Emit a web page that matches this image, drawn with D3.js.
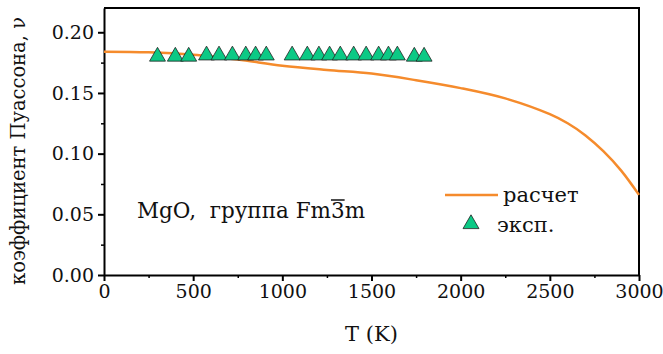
<!DOCTYPE html>
<html>
<head>
<meta charset="utf-8">
<script src="https://cdn.jsdelivr.net/npm/d3@7"></script>
<style>
  body { margin: 0; background: #fff; }
  text { font-family: "DejaVu Serif", serif; fill: #111; }
</style>
</head>
<body>
<div id="chart"></div>
<script>
// calculated curve
var calcT  = [0, 250, 500, 750, 1000, 1250, 1500, 1750, 2000, 2250, 2500, 2600, 2700, 2800, 2900, 3000];
var calcNu = [0.184, 0.1835, 0.1815, 0.1775, 0.1725, 0.169, 0.166, 0.1605, 0.154, 0.1455, 0.1325, 0.125, 0.115, 0.102, 0.086, 0.066];

// experiment points
var expT  = [300, 400, 475, 575, 645, 720, 795, 850, 910, 1055, 1140, 1205, 1265, 1325, 1400, 1470, 1540, 1595, 1645, 1740, 1795];
var expNu = [0.180, 0.180, 0.180, 0.181, 0.181, 0.181, 0.181, 0.181, 0.181, 0.181, 0.181, 0.181, 0.181, 0.181, 0.181, 0.181, 0.181, 0.181, 0.181, 0.180, 0.180];

var xTicks = [0, 500, 1000, 1500, 2000, 2500, 3000];
var yTicks = [0.00, 0.05, 0.10, 0.15, 0.20];

var width = 663, height = 354;
var margin = { top: 8, right: 24, bottom: 79, left: 104 };

var svg = d3.select("#chart").append("svg")
  .attr("width", width)
  .attr("height", height);

var x = d3.scaleLinear()
  .domain([0, 3000])
  .range([margin.left, width - margin.right]);

var y = d3.scaleLinear()
  .domain([0, 0.22])
  .range([height - margin.bottom, margin.top]);

// minor ticks
var xMinor = d3.range(250, 3000, 500);
var yMinor = d3.range(0.025, 0.22, 0.05);

svg.append("g")
  .attr("transform", "translate(0," + y(0) + ")")
  .call(d3.axisBottom(x).tickValues(xMinor).tickSize(3).tickFormat(""))
  .call(function (g) { g.select(".domain").remove(); })
  .selectAll("line").attr("stroke-width", 1.5);

svg.append("g")
  .attr("transform", "translate(" + x(0) + ",0)")
  .call(d3.axisLeft(y).tickValues(yMinor).tickSize(3).tickFormat(""))
  .call(function (g) { g.select(".domain").remove(); })
  .selectAll("line").attr("stroke-width", 1.5);

var xAxis = svg.append("g")
  .attr("transform", "translate(0," + y(0) + ")")
  .call(d3.axisBottom(x).tickValues(xTicks).tickSize(6).tickSizeOuter(0).tickPadding(4).tickFormat(d3.format("d")));

var yAxis = svg.append("g")
  .attr("transform", "translate(" + x(0) + ",0)")
  .call(d3.axisLeft(y).tickValues(yTicks).tickSize(6).tickSizeOuter(0).tickPadding(4).tickFormat(d3.format(".2f")));

[xAxis, yAxis].forEach(function (g) {
  g.select(".domain").attr("stroke-width", 2);
  g.selectAll(".tick line").attr("stroke-width", 2);
  g.selectAll(".tick text")
    .style("font-family", "DejaVu Serif, serif")
    .style("font-size", "19px")
    .attr("fill", "#111");
});

// top and right frame
svg.append("path")
  .attr("d", "M" + x(0) + "," + y(0.22) + "H" + x(3000) + "V" + y(0))
  .attr("fill", "none")
  .attr("stroke", "#000")
  .attr("stroke-width", 2);

var line = d3.line()
  .x(function (d, i) { return x(calcT[i]); })
  .y(function (d) { return y(d); })
  .curve(d3.curveCatmullRom);

svg.append("path")
  .datum(calcNu)
  .attr("fill", "none")
  .attr("stroke", "#f58b2c")
  .attr("stroke-width", 2.5)
  .attr("d", line);

var tri = d3.symbol().type(d3.symbolTriangle).size(110);

svg.selectAll(".exp")
  .data(expNu)
  .enter().append("path")
  .attr("class", "exp")
  .attr("d", tri)
  .attr("transform", function (d, i) { return "translate(" + x(expT[i]) + "," + y(d) + ")"; })
  .attr("fill", "#0cc985")
  .attr("stroke", "#222")
  .attr("stroke-width", 0.8);

// axis titles
svg.append("text")
  .attr("x", (x(0) + x(3000)) / 2)
  .attr("y", 341)
  .attr("text-anchor", "middle")
  .style("font-size", "21px")
  .text("T (K)");

svg.append("text")
  .attr("transform", "translate(25," + 151 + ") rotate(-90)")
  .attr("text-anchor", "middle")
  .style("font-size", "19.5px")
  .text("коэффициент Пуассона, ν");

// annotation with overlined 3
var note = svg.append("g").attr("transform", "translate(137,218)");
var t1 = note.append("text").style("font-size", "21.5px").attr("xml:space", "preserve").text("MgO,  группа Fm");
var w1 = t1.node().getComputedTextLength();
var t2 = note.append("text").style("font-size", "21.5px").attr("x", w1).text("3");
var w2 = t2.node().getComputedTextLength();
note.append("line")
  .attr("x1", w1).attr("x2", w1 + w2)
  .attr("y1", -18).attr("y2", -18)
  .attr("stroke", "#111").attr("stroke-width", 1.5);
note.append("text").style("font-size", "21.5px").attr("x", w1 + w2).text("m");

// legend
var legend = svg.append("g");
legend.append("line")
  .attr("x1", 445).attr("x2", 498)
  .attr("y1", 195).attr("y2", 195)
  .attr("stroke", "#f58b2c").attr("stroke-width", 2.5);
legend.append("text")
  .attr("x", 503).attr("y", 202)
  .style("font-size", "21px")
  .text("расчет");
legend.append("path")
  .attr("d", tri)
  .attr("transform", "translate(471,224)")
  .attr("fill", "#0cc985")
  .attr("stroke", "#222")
  .attr("stroke-width", 0.8);
legend.append("text")
  .attr("x", 497).attr("y", 232)
  .style("font-size", "21px")
  .text("эксп.");
</script>
</body>
</html>
